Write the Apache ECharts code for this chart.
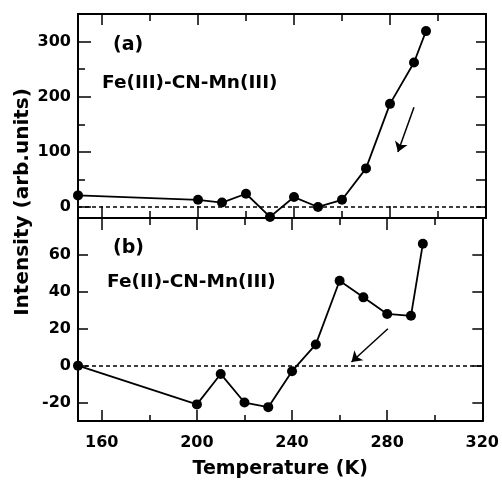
<!DOCTYPE html>
<html>
<head>
<meta charset="utf-8">
<script src="https://cdn.jsdelivr.net/npm/echarts@6/dist/echarts.min.js"></script>
<style>
  html, body { margin: 0; padding: 0; background: #fff; }
  #container { width: 502px; height: 480px; }
</style>
</head>
<body>
<div id="container"></div>
<script>
// temperatures (K) and intensities
var temps = [150, 200, 210, 220, 230, 240, 250, 260, 270, 280, 290, 295];
var fe3 = [21, 13, 8, 24, -18, 18, 0, 13, 70, 187, 262, 319];   // (a) Fe(III)-CN-Mn(III)
var fe2 = [0, -21, -4.5, -20, -22.5, -3, 11.5, 46, 37, 28, 27, 66]; // (b) Fe(II)-CN-Mn(III)

// arrows, data coords [start, end]
var arrowA = [[290, 181], [283.3, 99.5]];
var arrowB = [[280.3, 20], [265, 2]];

// tick values
var xMajor = [160, 200, 240, 280, 320];
var xMinor = [180, 220, 260, 300];
var yTopMajor = [0, 100, 200, 300];
var yTopMinor = [50, 150, 250];
var yBotMajor = [-20, 0, 20, 40, 60];

var FONT = 'DejaVu Sans';

var dom = document.getElementById('container');
var myChart = echarts.init(dom, null, { renderer: 'canvas' });

function xAxisDef(grid, pos, ticks, len, labels) {
  return {
    type: 'value', gridIndex: grid, position: pos, min: 150, max: 320,
    axisLine: { show: true, onZero: false, lineStyle: { color: '#000', width: 2 } },
    axisTick: { show: true, inside: true, length: len, customValues: ticks, lineStyle: { color: '#000', width: 1.5 } },
    axisLabel: labels ? {
      show: true, customValues: xMajor, margin: 14, color: '#000',
      fontFamily: FONT, fontWeight: 'bold', fontSize: 16
    } : { show: false },
    splitLine: { show: false }
  };
}

function yAxisDef(grid, pos, min, max, ticks, len, labels) {
  return {
    type: 'value', gridIndex: grid, position: pos, min: min, max: max,
    axisLine: { show: true, onZero: false, lineStyle: { color: '#000', width: 2 } },
    axisTick: { show: true, inside: true, length: len, customValues: ticks, lineStyle: { color: '#000', width: 1.5 } },
    axisLabel: labels ? {
      show: true, customValues: labels, margin: 7, color: '#000',
      fontFamily: FONT, fontWeight: 'bold', fontSize: 16
    } : { show: false },
    splitLine: { show: false }
  };
}

var xAxes = [
  xAxisDef(0, 'bottom', xMajor, 12, false),
  xAxisDef(0, 'bottom', xMinor, 7, false),
  xAxisDef(0, 'top', xMajor, 11, false),
  xAxisDef(0, 'top', xMinor, 7, false),
  xAxisDef(1, 'bottom', xMajor, 11, true),
  xAxisDef(1, 'bottom', xMinor, 6, false),
  xAxisDef(1, 'top', xMajor, 12, false),
  xAxisDef(1, 'top', xMinor, 7, false)
];
xAxes[4].name = 'Temperature (K)';
xAxes[4].nameLocation = 'middle';
xAxes[4].nameGap = 39;
xAxes[4].nameTextStyle = { color: '#000', fontFamily: FONT, fontWeight: 'bold', fontSize: 19 };

var yAxes = [
  yAxisDef(0, 'left', -20, 350, yTopMajor, 13, yTopMajor),
  yAxisDef(0, 'left', -20, 350, yTopMinor, 7, null),
  yAxisDef(0, 'right', -20, 350, yTopMajor.concat(yTopMinor), 10, null),
  yAxisDef(1, 'left', -30, 80, yBotMajor, 10, yBotMajor),
  yAxisDef(1, 'right', -30, 80, yBotMajor, 10, null)
];

function pairs(xs, ys) {
  var out = [];
  for (var i = 0; i < xs.length; i++) out.push([xs[i], ys[i]]);
  return out;
}

var zeroLine = {
  silent: true, symbol: 'none', label: { show: false },
  lineStyle: { color: '#000', width: 1.5, type: [4, 3] },
  data: [{ yAxis: 0 }]
};

function arrowLine(a) {
  return {
    silent: true, symbol: ['none', 'arrow'], symbolSize: 10, label: { show: false },
    lineStyle: { color: '#000', width: 1.5, type: 'solid' },
    data: [[{ coord: a[0] }, { coord: a[1] }]]
  };
}

var lineSeries = function (xi, yi, vals) {
  return {
    type: 'line', xAxisIndex: xi, yAxisIndex: yi,
    data: pairs(temps, vals),
    symbol: 'circle', symbolSize: 10, showSymbol: true,
    itemStyle: { color: '#000' },
    lineStyle: { color: '#000', width: 1.8 },
    markLine: zeroLine,
    z: 3
  };
};

var option = {
  animation: false,
  backgroundColor: '#fff',
  grid: [
    { left: 78, right: 16, top: 14, height: 204 },
    { left: 78, right: 16, top: 218, height: 203 }
  ],
  xAxis: xAxes,
  yAxis: yAxes,
  graphic: [
    { type: 'text', x: 113, y: 45, style: { text: '(a)', fill: '#000', font: 'bold 19px "DejaVu Sans"', verticalAlign: 'middle' } },
    { type: 'text', x: 102, y: 83, style: { text: 'Fe(III)-CN-Mn(III)', fill: '#000', font: 'bold 18.5px "DejaVu Sans"', verticalAlign: 'middle' } },
    { type: 'text', x: 113, y: 248, style: { text: '(b)', fill: '#000', font: 'bold 19px "DejaVu Sans"', verticalAlign: 'middle' } },
    { type: 'text', x: 107, y: 282, style: { text: 'Fe(II)-CN-Mn(III)', fill: '#000', font: 'bold 18.5px "DejaVu Sans"', verticalAlign: 'middle' } },
    { type: 'text', x: 23, y: 202, rotation: Math.PI / 2, style: { text: 'Intensity (arb.units)', fill: '#000', font: 'bold 20px "DejaVu Sans"', align: 'center', verticalAlign: 'middle' } }
  ],
  series: [
    lineSeries(0, 0, fe3),
    lineSeries(4, 3, fe2),
    { type: 'line', xAxisIndex: 0, yAxisIndex: 0, data: [], markLine: arrowLine(arrowA) },
    { type: 'line', xAxisIndex: 4, yAxisIndex: 3, data: [], markLine: arrowLine(arrowB) }
  ]
};

if (option && typeof option === 'object') {
  myChart.setOption(option);
}

window.addEventListener('resize', myChart.resize);
</script>
</body>
</html>
